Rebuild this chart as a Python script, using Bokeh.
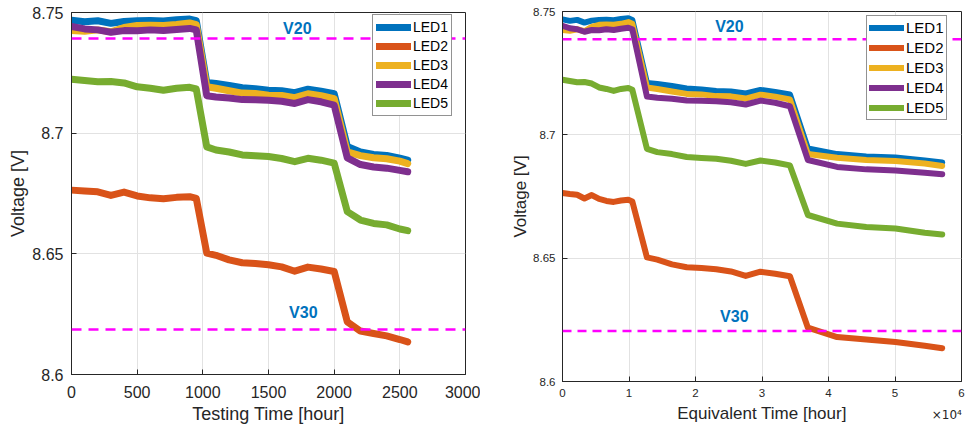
from bokeh.plotting import figure
from bokeh.layouts import row, column
from bokeh.models import FixedTicker, Span, Label, Legend, LegendItem, LinearAxis
from bokeh.embed import file_html
from bokeh.resources import INLINE

# ---------------- data ----------------
testing_time = [0, 100, 200, 300, 400, 500, 600, 700, 800, 900, 950, 1030, 1100, 1200, 1300,
                1400, 1500, 1600, 1700, 1800, 1900, 2000, 2100, 2200, 2300, 2400, 2500, 2560]
equivalent_time = [0, 1100, 2200, 3300, 4400, 5500, 6600, 7700, 8800, 9900, 10500, 12700, 14250,
                   16460, 18680, 20900, 23120, 25330, 27550, 29770, 31980, 34200, 36900, 41290,
                   45680, 50070, 54470, 57100]

led1 = [8.7468, 8.7462, 8.7466, 8.7455, 8.7463, 8.7466, 8.7467, 8.7465, 8.7470, 8.7473, 8.7466,
        8.7210, 8.7206, 8.7198, 8.7188, 8.7184, 8.7178, 8.7176, 8.7168, 8.7182, 8.7174, 8.7164,
        8.6945, 8.6922, 8.6912, 8.6908, 8.6896, 8.6888]
led2 = [8.6764, 8.6760, 8.6757, 8.6742, 8.6756, 8.6740, 8.6732, 8.6728, 8.6734, 8.6737, 8.6730,
        8.6503, 8.6494, 8.6475, 8.6463, 8.6460, 8.6455, 8.6446, 8.6428, 8.6445, 8.6437, 8.6427,
        8.6218, 8.6180, 8.6170, 8.6160, 8.6145, 8.6135]
led3 = [8.7425, 8.7422, 8.7428, 8.7420, 8.7438, 8.7446, 8.7447, 8.7446, 8.7450, 8.7457, 8.7450,
        8.7192, 8.7186, 8.7176, 8.7166, 8.7164, 8.7157, 8.7156, 8.7147, 8.7163, 8.7155, 8.7143,
        8.6922, 8.6907, 8.6898, 8.6894, 8.6884, 8.6874]
led4 = [8.7442, 8.7432, 8.7428, 8.7418, 8.7425, 8.7424, 8.7428, 8.7425, 8.7430, 8.7434, 8.7428,
        8.7155, 8.7150, 8.7146, 8.7139, 8.7138, 8.7136, 8.7132, 8.7123, 8.7139, 8.7130, 8.7116,
        8.6898, 8.6870, 8.6860, 8.6855, 8.6846, 8.6840]
led5 = [8.7223, 8.7218, 8.7213, 8.7214, 8.7208, 8.7192, 8.7186, 8.7178, 8.7186, 8.7190, 8.7183,
        8.6943, 8.6930, 8.6922, 8.6910, 8.6906, 8.6903, 8.6895, 8.6882, 8.6896, 8.6888, 8.6876,
        8.6675, 8.6640, 8.6626, 8.6620, 8.6603, 8.6596]

series_names = ["LED1", "LED2", "LED3", "LED4", "LED5"]
series_values = [led1, led2, led3, led4, led5]
colors = ["#0072BD", "#D95319", "#EDB120", "#7E2F8E", "#77AC30"]

v20_levels = [8.7392, 8.7388]   # left panel, right panel
v30_levels = [8.6186, 8.6205]
y_ticks = [8.6, 8.65, 8.7, 8.75]
y_tick_labels = ["8.6", "8.65", "8.7", "8.75"]
x_ticks_left = [0, 500, 1000, 1500, 2000, 2500, 3000]
x_ticks_right = [0, 10000, 20000, 30000, 40000, 50000, 60000]
x_tick_labels_right = ["0", "1", "2", "3", "4", "5", "6"]
multiplier_text = "\u00d710\u2074"

FONT = "Liberation Sans"
DARK = "#262626"
BLUE_TXT = "#0072BD"


def style(p, tick_fs, label_fs, xlab, ylab):
    p.background_fill_color = "white"
    p.border_fill_color = "white"
    p.outline_line_color = DARK
    p.outline_line_width = 1
    p.grid.grid_line_color = "#e2e2e2"
    p.grid.grid_line_width = 1
    for ax in (p.xaxis[0], p.yaxis[0]):
        ax.axis_line_color = DARK
        ax.major_tick_line_color = DARK
        ax.major_tick_in = 5
        ax.major_tick_out = 0
        ax.minor_tick_line_color = None
        ax.major_label_text_font = FONT
        ax.major_label_text_font_size = tick_fs
        ax.major_label_text_color = DARK
        ax.axis_label_text_font = FONT
        ax.axis_label_text_font_size = label_fs
        ax.axis_label_text_font_style = "normal"
        ax.axis_label_text_color = DARK
    p.xaxis[0].axis_label = xlab
    p.yaxis[0].axis_label = ylab
    p.yaxis[0].ticker = FixedTicker(ticks=y_ticks)
    p.yaxis[0].major_label_overrides = {t: s for t, s in zip(y_ticks, y_tick_labels)}


def add_series(p, xs, lw, legend_fs, loc, row_h, pad):
    items = []
    for name, vals, c in zip(series_names, series_values, colors):
        r = p.line(xs, vals, line_color=c, line_width=lw, line_cap="round", line_join="round")
        items.append(LegendItem(label=name, renderers=[r]))
    leg = Legend(items=items, location=loc)
    leg.label_text_font = FONT
    leg.label_text_font_size = legend_fs
    leg.label_text_color = "black"
    leg.glyph_width = 35
    leg.glyph_height = row_h
    leg.label_height = row_h
    leg.spacing = 1
    leg.padding = pad
    leg.margin = 0
    leg.label_standoff = 2
    leg.border_line_color = DARK
    leg.border_line_width = 1
    leg.background_fill_color = "white"
    leg.background_fill_alpha = 1
    p.add_layout(leg)


# ---------------- left panel ----------------
p1 = figure(width=480, height=426, x_range=(0, 3000), y_range=(8.6, 8.75),
            output_backend="svg", toolbar_location=None,
            min_border_left=71, min_border_right=15, min_border_top=12, min_border_bottom=51)
style(p1, "16px", "18px", "Testing Time [hour]", "Voltage [V]")
p1.xaxis[0].ticker = FixedTicker(ticks=x_ticks_left)
p1.xaxis[0].major_label_standoff = 11
p1.xaxis[0].axis_label_standoff = 3
p1.yaxis[0].major_label_standoff = 8
p1.yaxis[0].axis_label_standoff = 1
add_series(p1, testing_time, 7, "14px", (301, 258), 18, 3)
p1.add_layout(Span(location=v20_levels[0], dimension="width", line_color="#FF00FF",
                   line_width=2.5, line_dash="10 7"))
p1.add_layout(Span(location=v30_levels[0], dimension="width", line_color="#FF00FF",
                   line_width=2.5, line_dash="10 7"))
p1.add_layout(Label(x=1611, y=8.7434, text="V20", text_font=FONT, text_font_size="16px",
                    text_font_style="bold", text_color=BLUE_TXT, text_baseline="middle"))
p1.add_layout(Label(x=1657, y=8.6256, text="V30", text_font=FONT, text_font_size="16px",
                    text_font_style="bold", text_color=BLUE_TXT, text_baseline="middle"))

# ---------------- right panel ----------------
p2 = figure(width=488, height=426, x_range=(0, 60000), y_range=(8.6, 8.75),
            output_backend="svg", toolbar_location=None,
            min_border_left=82, min_border_right=7, min_border_top=11, min_border_bottom=45)
style(p2, "11.5px", "17px", "Equivalent Time [hour]", "Voltage [V]")
p2.xaxis[0].ticker = FixedTicker(ticks=x_ticks_right)
p2.xaxis[0].major_label_overrides = {t: s for t, s in zip(x_ticks_right, x_tick_labels_right)}
p2.xaxis[0].major_label_standoff = 7
p2.xaxis[0].axis_label_standoff = 4
p2.yaxis[0].major_label_standoff = 7
p2.yaxis[0].axis_label_standoff = 0
add_series(p2, equivalent_time, 6, "15px", (304, 261), 19, 2)
p2.add_layout(Span(location=v20_levels[1], dimension="width", line_color="#FF00FF",
                   line_width=2.5, line_dash="9 6"))
p2.add_layout(Span(location=v30_levels[1], dimension="width", line_color="#FF00FF",
                   line_width=2.5, line_dash="9 6"))
p2.add_layout(Label(x=22960, y=8.744, text="V20", text_font=FONT, text_font_size="16px",
                    text_font_style="bold", text_color=BLUE_TXT, text_baseline="middle"))
p2.add_layout(Label(x=23700, y=8.6263, text="V30", text_font=FONT, text_font_size="16px",
                    text_font_style="bold", text_color=BLUE_TXT, text_baseline="middle"))

# multiplier "x10^4" drawn as the single tick label of an extra, line-less bottom axis
mult_pos = 57800
mult_axis = LinearAxis(ticker=FixedTicker(ticks=[mult_pos]), axis_line_color=None,
                       major_tick_line_color=None, minor_tick_line_color=None,
                       major_tick_in=0, major_tick_out=0,
                       major_label_overrides={mult_pos: multiplier_text},
                       major_label_standoff=-18, major_label_text_font="DejaVu Sans",
                       major_label_text_font_size="12px", major_label_text_color=DARK)
p2.add_layout(mult_axis, "below")

layout = row(column(p1), column(p2))
open("out.html", "w").write(file_html(layout, INLINE))
